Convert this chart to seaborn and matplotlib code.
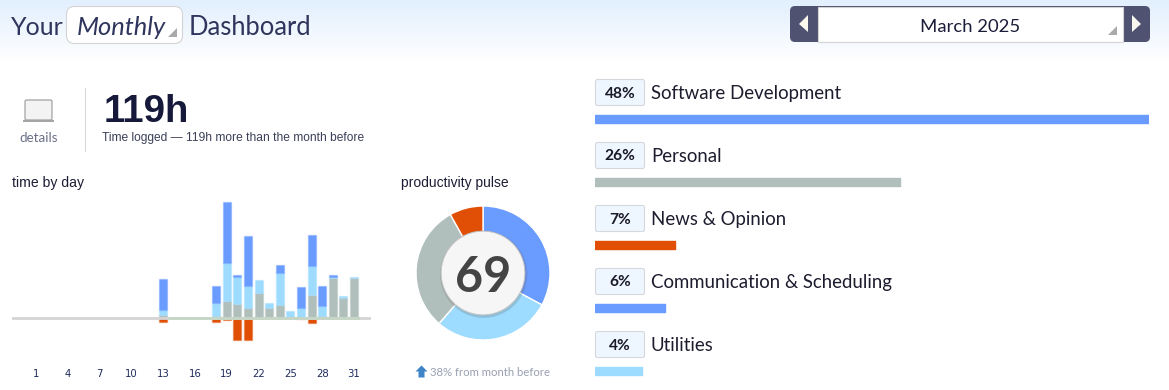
"""Monthly time-tracking dashboard: daily stacks, pulse donut, category shares."""

# 0. Setup ###################################################################

import numpy as np
import pandas as pd
import matplotlib.pyplot as plt
from matplotlib.patches import Circle, FancyBboxPatch, Polygon, Rectangle
import seaborn as sns

sns.set_theme(style="white")
plt.rcParams["font.family"] = ["Lato", "DejaVu Sans"]

W, H = 1169, 390

BLUE = "#6a9bff"
LIGHT = "#9ddcff"
GRAY = "#b1bfbc"
ORANGE = "#e04f05"
INK = "#1b1d3a"

# 1. Data ####################################################################

# time by day, hours per category
days = [13, 18, 19, 20, 21, 22, 23, 24, 25, 26, 27, 28, 29, 30, 31]
hours_gray = [0.5, 0.3, 2.9, 2.4, 1.6, 4.2, 1.6, 2.2, 0.0, 0.2, 3.9, 0.3, 6.7, 3.4, 6.7]
hours_light = [0.8, 2.2, 6.2, 4.5, 3.8, 2.1, 0.9, 5.3, 1.1, 1.5, 4.7, 1.7, 0.1, 0.3, 0.2]
hours_blue = [5.2, 2.9, 10.3, 0.2, 8.2, 0.0, 0.0, 1.3, 0.0, 3.5, 5.2, 3.4, 0.4, 0.0, 0.0]
hours_orange = [-0.6, -0.7, -0.3, -3.7, -3.7, 0, 0, 0, 0, -0.1, -0.8, 0, 0, 0, 0]
tick_days = [1, 4, 7, 10, 13, 16, 19, 22, 25, 28, 31]

# productivity pulse
pulse_score = "69"
pulse_shares = [32.9, 28.5, 30.5, 8.1]
pulse_colors = [BLUE, LIGHT, GRAY, ORANGE]

# top categories
categories = ["Software Development", "Personal", "News & Opinion",
              "Communication & Scheduling", "Utilities"]
category_labels = ["48%", "26%", "7%", "6%", "4%"]
category_shares = [48.0, 26.4, 6.9, 6.1, 4.1]
category_colors = [BLUE, GRAY, ORANGE, BLUE, LIGHT]

# 2. Figure and page furniture ###############################################

fig = plt.figure(figsize=(W / 100, H / 100), dpi=100, facecolor="white")


def px_axes(x0, y0, x1, y1, **kw):
    # axes placed with image pixel coordinates (y down)
    return fig.add_axes([x0 / W, 1 - y1 / H, (x1 - x0) / W, (y1 - y0) / H], **kw)


page = px_axes(0, 0, W, H, zorder=0)
page.set_xlim(0, W)
page.set_ylim(H, 0)
page.axis("off")

# header gradient
grad = np.linspace(0, 1, 64).reshape(-1, 1)
page.imshow(grad, extent=[0, W, 62, 0], aspect="auto", zorder=0,
            cmap=sns.blend_palette(["#e2effd", "#ffffff"], as_cmap=True))
page.set_xlim(0, W)
page.set_ylim(H, 0)


def txt(x, y, s, size, color=INK, ha="left", **kw):
    page.text(x, y, s, fontsize=size * 0.72, color=color, ha=ha, va="center", **kw)


def rbox(x0, y0, x1, y1, r, fc, ec, lw=0.8, z=2):
    page.add_patch(FancyBboxPatch((x0 + r, y0 + r), x1 - x0 - 2 * r, y1 - y0 - 2 * r,
                                  boxstyle=f"round,pad={r},rounding_size={r}",
                                  fc=fc, ec=ec, lw=lw, zorder=z))


# title row
txt(11, 27.5, "Your", 25, color="#2f355c")
rbox(66.5, 6.5, 182.5, 43.5, 8, "white", "#d4d4d4")
txt(77, 27.5, "Monthly", 25.5, color="#2f355c", fontstyle="italic", zorder=3)
page.add_patch(Polygon([[177, 28], [177, 37], [168, 37]], fc="#aaaaaa", ec="none", zorder=3))
txt(189, 27.5, "Dashboard", 25.5, color="#2f355c")

# month picker
rbox(790, 6, 1150, 42, 5, "#4f5270", "none", lw=0)
page.add_patch(Rectangle((817.5, 6.5), 305, 35, fc="white", ec="#d4d4d4", lw=0.8, zorder=3))
page.add_patch(Polygon([[808, 15], [808, 32], [799, 24]], fc="#fbf8ef", ec="none", zorder=3))
page.add_patch(Polygon([[1132, 15], [1132, 32], [1141, 24]], fc="#fbf8ef", ec="none", zorder=3))
page.add_patch(Polygon([[1117, 26], [1117, 35], [1108, 35]], fc="#aaaaaa", ec="none", zorder=4))
txt(970, 26.5, "March 2025", 18.5, color=INK, ha="center", zorder=4)

# logged time block
page.add_patch(FancyBboxPatch((25, 100), 27, 20, boxstyle="round,pad=0,rounding_size=1.5",
                              fc="#f3f3f3", ec="#999999", lw=0.8, zorder=2))
page.add_patch(Rectangle((23, 120), 31, 2, fc="#a5a5a5", ec="none", zorder=3))
txt(38.5, 137.5, "details", 13.4, color="#6b7088", ha="center")
page.plot([84.5, 84.5], [88, 151], color="#d8d8d8", lw=0.8, zorder=2)
txt(104, 112, "119h", 38.5, color="#16193a", fontweight="bold", family="Liberation Sans")
txt(102, 138, "Time logged \u2014 119h more than the month before", 12,
    color="#3c4058", family="Liberation Sans")

txt(12, 183, "time by day", 14, color="#1c1c34", family="Liberation Sans")
txt(401, 183, "productivity pulse", 13.9, color="#1c1c34", family="Liberation Sans")

# 3. Time by day #############################################################

base_px = 318
px_per_hour = 6
px_per_day = 10.6
day_ax = px_axes(12, 195, 371, 345, zorder=2)
day_ax.patch.set_alpha(0)

bottom = np.zeros(len(days))
for vals, color in [(hours_gray, GRAY), (hours_light, LIGHT), (hours_blue, BLUE)]:
    sns.barplot(x=days, y=vals, bottom=bottom, native_scale=True, width=0.75, color=color,
                saturation=1, errorbar=None, linewidth=0, ax=day_ax)
    bottom = bottom + np.array(vals)
sns.barplot(x=days, y=hours_orange, native_scale=True, width=0.75, color=ORANGE,
            saturation=1, errorbar=None, linewidth=0, ax=day_ax)

# soft halo round the bars
for bar in day_ax.patches:
    if bar.get_height() != 0:
        bar.set_edgecolor((*bar.get_facecolor()[:3], 0.35))
        bar.set_linewidth(1.0)

day_ax.set_xlim(1 - (36 - 12) / px_per_day, 1 + (371 - 36) / px_per_day)
day_ax.set_ylim((base_px - 345) / px_per_hour, (base_px - 195) / px_per_hour)
day_ax.axhline(0, color="#d4d4d4", lw=2.0, zorder=5)
day_ax.plot([13.5, 31.5], [0, 0], color="#c6d6c6", lw=2.0, zorder=6)
day_ax.set_xticks(tick_days)
day_ax.set_xticklabels(tick_days)
day_ax.set_yticks([])
day_ax.set_xlabel("")
day_ax.set_ylabel("")
day_ax.tick_params(axis="x", length=0, pad=17.5, labelsize=7.3, labelcolor="#1d2a5c")
for lab in day_ax.get_xticklabels():
    lab.set_family("DejaVu Sans")
sns.despine(ax=day_ax, left=True, bottom=True)

# 4. Productivity pulse ######################################################

pie_ax = px_axes(416, 206, 550, 340, zorder=2)
pie_ax.pie(pulse_shares, colors=pulse_colors, startangle=90, counterclock=False, radius=1.0)
pie_ax.set_xlim(-1, 1)
pie_ax.set_ylim(-1, 1)
pie_ax.add_patch(Circle((0.01, -0.02), 0.65, fc="#5a5a5a", alpha=0.22, ec="none", zorder=4))
pie_ax.add_patch(Circle((0, 0), 0.625, fc="#f6f6f6", ec="#c4c4c4", lw=0.7, zorder=5))
pie_ax.text(0, 0, pulse_score, fontsize=35, fontweight="bold", color="#444444",
            ha="center", va="center_baseline", zorder=6)

page.add_patch(Polygon([[421.5, 365.5], [427.5, 371.5], [424.5, 371.5], [424.5, 377.5],
                        [418.5, 377.5], [418.5, 371.5], [415.5, 371.5]],
                       fc="#3d85c6", ec="none", zorder=3))
txt(430, 372.5, "38% from month before", 11.4, color="#9aa0b2")

# 5. Category shares #########################################################

first_px = 119
step_px = 63
cat_ax = px_axes(595, 87.5, 1149, H, zorder=2)
cat_ax.patch.set_alpha(0)
cat_df = pd.DataFrame({"category": categories, "share": category_shares})
sns.barplot(data=cat_df, y="category", x="share", hue="category", palette=category_colors,
            order=categories, hue_order=categories, width=0.13, saturation=1,
            legend=False, ax=cat_ax)
for bar in cat_ax.patches:
    bar.set_edgecolor(bar.get_facecolor())
    bar.set_linewidth(1.0)
    bar.set_joinstyle("round")
cat_ax.set_xlim(0, 48)
cat_ax.set_ylim((H - first_px) / step_px, -0.5)
cat_ax.set_xlabel("")
cat_ax.set_ylabel("")
cat_ax.set_xticks([])
cat_ax.set_yticks([])
sns.despine(ax=cat_ax, left=True, bottom=True)

for i, (name, pct) in enumerate(zip(categories, category_labels)):
    y = 92.5 + step_px * i
    rbox(595.5, y - 13, 644.5, y + 13, 2, "#eef6ff", "#d5d8dc")
    txt(620, y + 1, pct, 15.5, color="#1a1a26", ha="center", fontweight="bold", zorder=3)
    txt(651, y + 1, name, 18.7, color="#1c1c2e")

fig.savefig("out.png", dpi=100)
